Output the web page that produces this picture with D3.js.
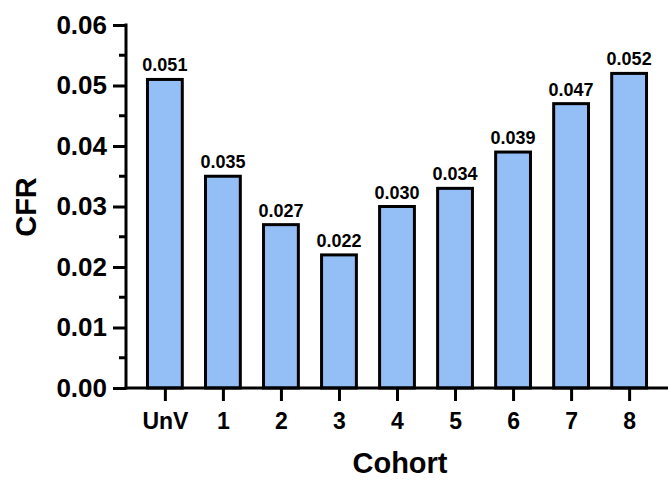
<!DOCTYPE html>
<html>
<head>
<meta charset="utf-8">
<script src="https://cdn.jsdelivr.net/npm/d3@7"></script>
<style>
body { margin: 0; background: #fff; }
text { font-family: "Liberation Sans", Arial, sans-serif; font-weight: bold; }
</style>
</head>
<body>
<svg id="chart" width="669" height="480"></svg>
<script>
// cohorts and case fatality ratio
var cohorts = ["UnV", "1", "2", "3", "4", "5", "6", "7", "8"];
var cfr = [0.051, 0.035, 0.027, 0.022, 0.030, 0.033, 0.039, 0.047, 0.052];
var cfrLabels = ["0.051", "0.035", "0.027", "0.022", "0.030", "0.034", "0.039", "0.047", "0.052"];
var yTicks = [0, 0.01, 0.02, 0.03, 0.04, 0.05, 0.06];
var yMinor = [0.005, 0.015, 0.025, 0.035, 0.045, 0.055];

var svg = d3.select("#chart");
var mLeft = 126, mRight = 668, mTop = 25, mBottom = 388;

var x = d3.scalePoint().domain(cohorts).range([mLeft, mRight]).padding(0.67);
var y = d3.scaleLinear().domain([0, 0.06]).range([mBottom, mTop]);
var bw = x.step() * 0.6;

// bars
svg.selectAll("rect.bar")
    .data(cfr)
    .enter().append("rect")
    .attr("class", "bar")
    .attr("x", function(d, i) { return x(cohorts[i]) - bw / 2; })
    .attr("y", function(d) { return y(d); })
    .attr("width", bw)
    .attr("height", function(d) { return mBottom - y(d); })
    .attr("fill", "#93bef6")
    .attr("stroke", "#000")
    .attr("stroke-width", 3);

svg.selectAll("text.val")
    .data(cfr)
    .enter().append("text")
    .attr("class", "val")
    .attr("x", function(d, i) { return x(cohorts[i]); })
    .attr("y", function(d) { return y(d) - 8; })
    .attr("text-anchor", "middle")
    .attr("font-size", 18)
    .text(function(d, i) { return cfrLabels[i]; });

// y axis
var yAxis = svg.append("g")
    .attr("transform", "translate(" + mLeft + ",0)")
    .call(d3.axisLeft(y).tickValues(yTicks).tickFormat(d3.format(".2f")).tickSize(13).tickPadding(6));
yAxis.select(".domain").attr("stroke-width", 3).attr("d", "M0," + (mBottom + 1.5) + "V" + (mTop - 1.5));
yAxis.selectAll(".tick line").attr("stroke-width", 3);
yAxis.selectAll(".tick text").attr("font-size", 26).attr("fill", "#000");

svg.append("g").selectAll("line")
    .data(yMinor)
    .enter().append("line")
    .attr("x1", mLeft - 7).attr("x2", mLeft)
    .attr("y1", function(d) { return y(d); })
    .attr("y2", function(d) { return y(d); })
    .attr("stroke", "#000").attr("stroke-width", 3);

// x axis
var xAxis = svg.append("g")
    .attr("transform", "translate(0," + mBottom + ")")
    .call(d3.axisBottom(x).tickSize(13).tickPadding(12));
xAxis.select(".domain").attr("stroke-width", 3).attr("d", "M" + (mLeft - 1.5) + ",0H" + mRight);
xAxis.selectAll(".tick line").attr("stroke-width", 3);
xAxis.selectAll(".tick text").attr("font-size", 23).attr("fill", "#000");

// titles
svg.append("text")
    .attr("x", 400).attr("y", 473)
    .attr("text-anchor", "middle")
    .attr("font-size", 29)
    .text("Cohort");

svg.append("text")
    .attr("transform", "translate(36,207) rotate(-90)")
    .attr("text-anchor", "middle")
    .attr("font-size", 29)
    .text("CFR");
</script>
</body>
</html>
